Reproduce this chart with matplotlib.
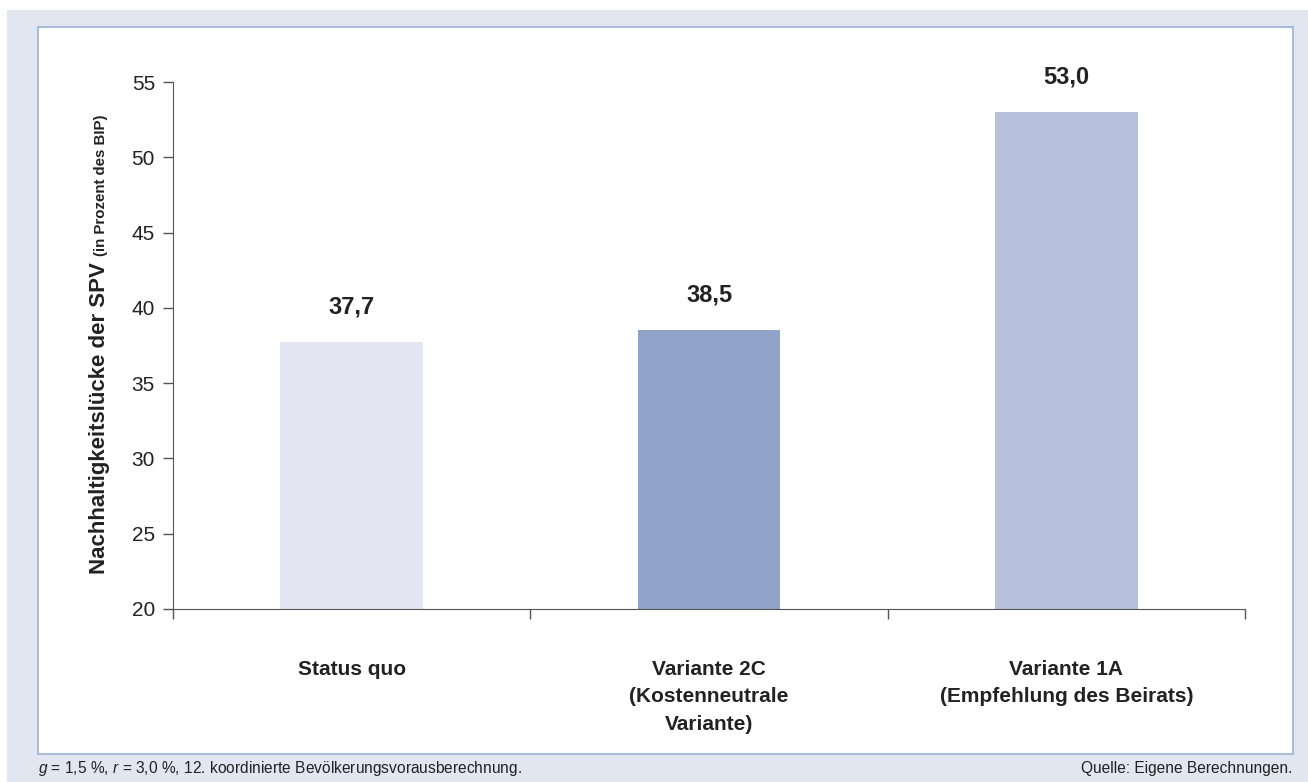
import matplotlib.pyplot as plt
from matplotlib.patches import Rectangle
from matplotlib.transforms import blended_transform_factory, offset_copy

plt.rcParams['font.family'] = ['Liberation Sans', 'DejaVu Sans']
plt.rcParams['mathtext.fontset'] = 'custom'
plt.rcParams['mathtext.rm'] = 'Liberation Sans'
plt.rcParams['mathtext.it'] = 'Liberation Sans:italic'

# data
categories = ["Status quo", "Variante 2C\n(Kostenneutrale\nVariante)",
              "Variante 1A\n(Empfehlung des Beirats)"]
values = [37.7, 38.5, 53.0]
value_labels = ["37,7", "38,5", "53,0"]
bar_colors = ["#e3e6f2", "#91a3c9", "#b8c1dc"]
yticks = [20, 25, 30, 35, 40, 45, 50, 55]

W, H = 1308, 782
fig = plt.figure(figsize=(W / 100, H / 100), dpi=100)

# page background + white panel
fig.patches.append(Rectangle((7 / W, 0), 1 - 7 / W, 1 - 10 / H,
                             transform=fig.transFigure, facecolor="#e2e6f0",
                             edgecolor="none", zorder=0))
fig.patches.append(Rectangle((38 / W, 1 - 754 / H), (1293 - 38) / W, (754 - 27) / H,
                             transform=fig.transFigure, facecolor="white",
                             edgecolor="#a9bcd9", linewidth=1.5, zorder=1))

ax = fig.add_axes([173 / W, 1 - 609 / H, (1245 - 173) / W, (609 - 82) / H])
ax.set_facecolor("none")
ax.set_zorder(2)

x = list(range(len(values)))
ax.bar(x, [v - 20 for v in values], bottom=20, width=0.4, color=bar_colors, zorder=2)

ax.set_xlim(-0.5, 2.5)
ax.set_ylim(20, 55)
ax.set_yticks(yticks)
ax.set_yticklabels([str(t) for t in yticks], fontsize=15, color="#222222")
ax.set_xticks([-0.5, 0.5, 1.5, 2.5])
ax.set_xticklabels([])
ax.tick_params(axis="y", length=7, width=1, color="#555555", pad=6)
ax.tick_params(axis="x", length=7, width=1, color="#555555")
for s in ["top", "right"]:
    ax.spines[s].set_visible(False)
ax.spines["left"].set_color("#555555")
ax.spines["bottom"].set_color("#555555")

# value labels
for xi, v, lab in zip(x, values, value_labels):
    ax.annotate(lab, (xi, v), xytext=(0, 17), textcoords="offset points",
                ha="center", va="bottom", fontsize=17, fontweight="bold",
                color="#222222")

# category labels
tr = blended_transform_factory(ax.transData, ax.transAxes)
for xi, cat in zip(x, categories):
    ax.text(xi, 0, cat, transform=offset_copy(tr, fig=fig, y=-51, units="dots"),
            ha="center", va="top", fontsize=15, fontweight="bold",
            color="#222222", linespacing=1.55, multialignment="center")

# y label in two sizes, sharing one baseline
r = fig.canvas.get_renderer()
t1 = fig.text(105 / W, 1 - 574 / H, "Nachhaltigkeitslücke der SPV ", rotation=90,
              ha="left", va="baseline", rotation_mode="anchor",
              fontsize=16, fontweight="bold", color="#222222")
bb = t1.get_window_extent(renderer=r)
fig.text(105 / W, bb.y1 / H, "(in Prozent des BIP)", rotation=90,
         ha="left", va="baseline", rotation_mode="anchor",
         fontsize=10.8, fontweight="bold", color="#222222")

# footer
fig.text(38 / W, 1 - 768 / H, "$g$ = 1,5 %, $r$ = 3,0 %, 12. koordinierte Bevölkerungsvorausberechnung.",
         ha="left", va="center", fontsize=11.2, color="#222222")
fig.text(1292 / W, 1 - 768 / H, "Quelle: Eigene Berechnungen.",
         ha="right", va="center", fontsize=11.2, color="#222222")

fig.savefig("out.png", dpi=100)
